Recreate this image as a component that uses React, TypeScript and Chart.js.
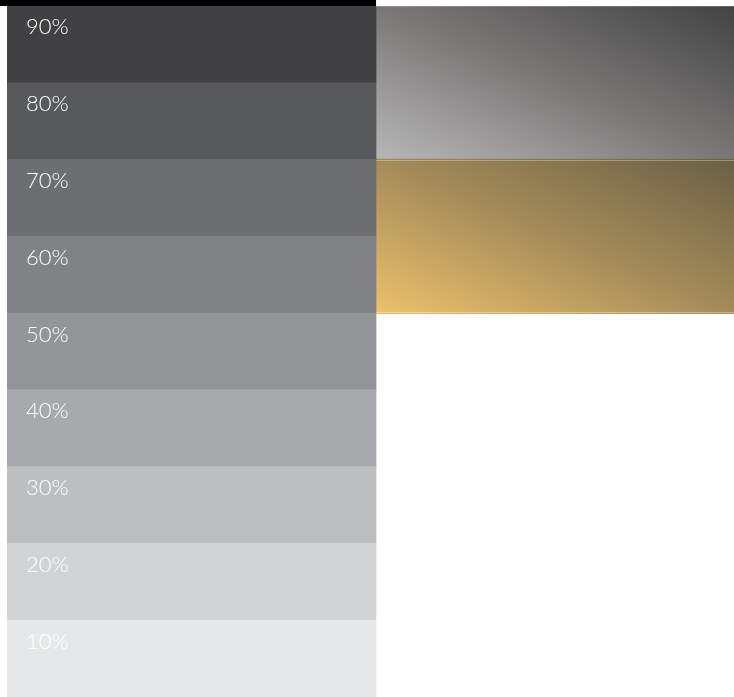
import React, { useEffect, useRef } from "react";
import { Chart, registerables } from "chart.js";

Chart.register(...registerables);

// Tint percentages of the grey scale (top to bottom)
const TINTS = [90, 80, 70, 60, 50, 40, 30, 20, 10];
const TINT_LABELS = TINTS.map((t) => `${t}%`);
const TINT_COLORS = [
  "#414042",
  "#58595b",
  "#6d6e71",
  "#808285",
  "#939598",
  "#a7a9ac",
  "#bcbec0",
  "#d1d3d4",
  "#e6e7e8",
];
// Each tint swatch spans one unit
const TINT_VALUES = TINTS.map(() => 1);

// Gradient panels next to the swatches: which rows each panel covers
const GRADIENT_GROUP = ["gray", "gray", "gold", "gold", null, null, null, null, null];
const GRAY_STOPS = ["#b8b7b7", "#7a7877", "#434343"];
const GOLD_STOPS = ["#ecc16b", "#a48c59", "#6a6045"];
// faint highlight lines along panel edges
const EDGE_TOP_ALPHA = { gray: 0.18, gold: 0.3 };
const EDGE_BOTTOM_ALPHA = { gray: 0, gold: 0.35 };

const X_MAX = 1.97;

export default function App() {
  const ref = useRef<HTMLCanvasElement | null>(null);

  useEffect(() => {
    if (!ref.current) return;

    const panelRect = (chart: any, group: string) => {
      const xs = chart.scales && chart.scales.x;
      const ys = chart.scales && chart.scales.y;
      if (!xs || !ys) return null;
      const rows = GRADIENT_GROUP.map((g, i) => (g === group ? i : -1)).filter((i) => i >= 0);
      const band = ys.getPixelForValue(1) - ys.getPixelForValue(0);
      const x0 = xs.getPixelForValue(1);
      const x1 = xs.getPixelForValue(X_MAX);
      const y0 = ys.getPixelForValue(rows[0]) - band / 2;
      const y1 = ys.getPixelForValue(rows[rows.length - 1]) + band / 2;
      if (![x0, x1, y0, y1, band].every((v) => Number.isFinite(v))) return null;
      return { x0, x1, y0, y1 };
    };

    const gradientFor = (chart: any, group: string) => {
      const stops = group === "gray" ? GRAY_STOPS : GOLD_STOPS;
      const r = panelRect(chart, group);
      if (!r) return stops[1];
      const w = r.x1 - r.x0;
      const h = r.y1 - r.y0;
      const L2 = w * w + h * h;
      if (L2 === 0) return stops[1];
      const k = (2 * w * h) / L2;
      const g = chart.ctx.createLinearGradient(r.x0, r.y1, r.x0 + h * k, r.y1 - w * k);
      stops.forEach((c, i) => g.addColorStop(i / (stops.length - 1), c));
      return g;
    };

    const decorations = {
      id: "decorations",
      beforeDraw(chart: any) {
        const { ctx, chartArea, scales } = chart;
        ctx.save();
        ctx.fillStyle = "#000000";
        ctx.fillRect(0, 0, scales.x.getPixelForValue(1), chartArea.top);
        ctx.restore();
      },
      afterDatasetsDraw(chart: any) {
        const { ctx } = chart;
        ctx.save();
        ["gray", "gold"].forEach((g) => {
          const r = panelRect(chart, g);
          if (!r) return;
          const ta = (EDGE_TOP_ALPHA as any)[g];
          const ba = (EDGE_BOTTOM_ALPHA as any)[g];
          if (ta > 0) {
            ctx.fillStyle = `rgba(255,255,255,${ta})`;
            ctx.fillRect(r.x0, Math.round(r.y0), r.x1 - r.x0, 1);
          }
          if (ba > 0) {
            ctx.fillStyle = `rgba(255,255,255,${ba})`;
            ctx.fillRect(r.x0, Math.round(r.y1) - 1, r.x1 - r.x0, 1);
          }
        });
        ctx.restore();
      },
    };

    const chart = new Chart(ref.current, {
      type: "bar",
      data: {
        labels: TINT_LABELS,
        datasets: [
          {
            label: "Tints",
            data: TINT_VALUES,
            backgroundColor: TINT_COLORS,
            borderWidth: 0,
            grouped: false,
            barPercentage: 1,
            categoryPercentage: 1,
          } as any,
          {
            label: "Gradients",
            data: GRADIENT_GROUP.map((g) => (g ? [1, X_MAX] : null)) as any,
            backgroundColor: (c: any) => {
              const g = GRADIENT_GROUP[c.dataIndex];
              return g ? gradientFor(c.chart, g) : "transparent";
            },
            borderWidth: 0,
            inflateAmount: 0.8,
            grouped: false,
            barPercentage: 1,
            categoryPercentage: 1,
          } as any,
        ],
      },
      options: {
        indexAxis: "y",
        animation: false,
        responsive: true,
        maintainAspectRatio: false,
        layout: { padding: { top: 6, left: 7, right: 0, bottom: 0 } },
        plugins: {
          legend: { display: false },
          tooltip: { enabled: false },
        },
        scales: {
          x: {
            type: "linear",
            min: 0,
            max: X_MAX,
            display: false,
          },
          y: {
            type: "category",
            grid: { display: false },
            border: { display: false },
            afterFit: (scale: any) => {
              scale.width = 0;
              scale.paddingTop = 0;
              scale.paddingBottom = 0;
              scale.paddingLeft = 0;
              scale.paddingRight = 0;
            },
            ticks: {
              mirror: true,
              padding: 19,
              labelOffset: -17,
              color: "#ffffff",
              z: 1,
              font: { family: "Lato, 'Open Sans', sans-serif", size: 22, weight: "300" as any },
            },
          } as any,
        },
      },
      plugins: [decorations],
    });

    return () => chart.destroy();
  }, []);

  return (
    <div style={{ position: "fixed", left: 0, top: 0, width: 734, height: 697, background: "#ffffff" }}>
      <canvas ref={ref} />
    </div>
  );
}
